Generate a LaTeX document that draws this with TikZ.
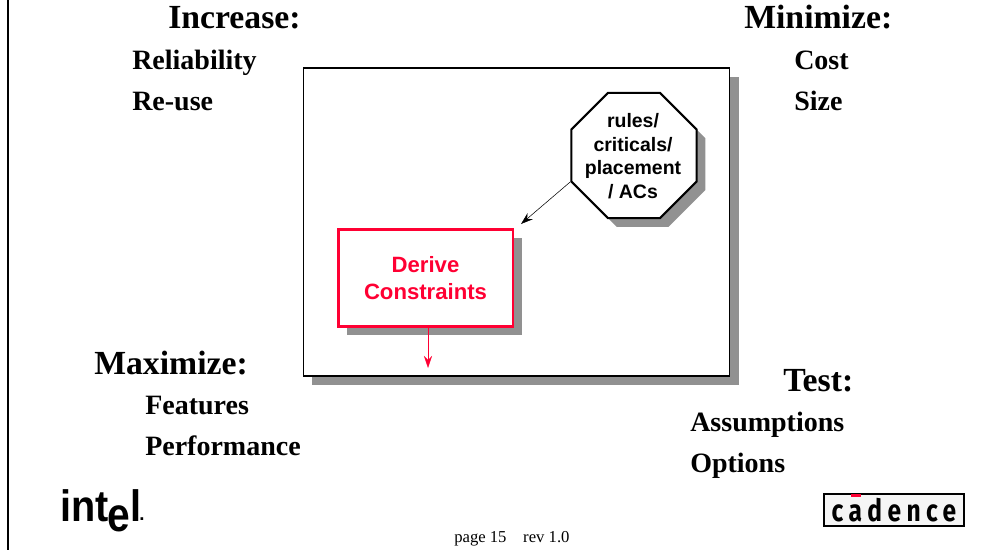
\documentclass[tikz,border=0pt]{standalone}
\usepackage{fontspec}
\usepackage{graphicx}
\usepackage{xcolor}
\usetikzlibrary{shapes.geometric,shadows,arrows.meta}
\setmainfont{Liberation Serif}
\setsansfont{Liberation Sans}
\newfontfamily\cadencefont[LetterSpace=22]{Fira Sans}
\definecolor{derive-red}{HTML}{FF0033}
\definecolor{shadow-gray}{HTML}{919191}
\tikzset{
    x=0.75pt, y=-0.75pt,
    heavy-shadow/.style = {drop shadow={shadow xshift=6.5pt, shadow yshift=-6.5pt, fill=shadow-gray, opacity=1}},
    main-box/.style = {draw=black, fill=white, thick, rectangle, minimum width=320pt, minimum height=231pt, heavy-shadow},
    rules-box/.style = {draw=black, fill=white, line width=1.6pt, regular polygon, regular polygon sides=8, minimum size=101.7pt, inner sep=0pt, heavy-shadow},
    rules-text/.style = {align=center, inner sep=0pt, font=\sffamily\bfseries\fontsize{14.6}{17.6}\selectfont},
    derive-box/.style = {draw=derive-red, fill=white, line width=2pt, rectangle, minimum width=131pt, minimum height=73pt, align=center, text=derive-red, font=\sffamily\bfseries\fontsize{16.6}{20}\selectfont, heavy-shadow},
    heading/.style = {anchor=base west, inner sep=0pt, font=\bfseries\fontsize{25.3}{30}\selectfont},
    item/.style = {anchor=base west, inner sep=0pt, font=\bfseries\fontsize{21}{25}\selectfont},
    logo-text/.style = {anchor=base west, inner sep=0pt, font=\sffamily\bfseries\fontsize{33}{33}\selectfont},
    open-tip/.style = {-{Stealth[length=9pt,width=6pt,inset=3pt]}},
}
\begin{document}
\begin{tikzpicture}
\useasboundingbox (0,0) rectangle (1004,550);
\draw[thick] (8,0) -- (8,550);

\node[main-box] (main) at (516.5,222) {};
\node[rules-box] (rules) at (634,155.5) {};
\node[rules-text] (rules-label) at (633,156) {rules/\\criticals/\\placement\\/ ACs};
\node[derive-box] (derive) at (425.5,278) {Derive\\Constraints};
\coordinate (derive-in) at (521,224);
\coordinate (derive-out) at (428,368);
\draw[open-tip] (rules.corner 4) -- (derive-in);
\draw[derive-red, open-tip] (derive.south -| derive-out) -- (derive-out);

\node[heading] (increase) at (168,28) {Increase:};
\node[item] (reliability) at (132,69) {Reliability};
\node[item] (reuse) at (132,110) {Re-use};
\node[heading] (minimize) at (744,28) {Minimize:};
\node[item] (cost) at (794,69) {Cost};
\node[item] (size) at (794,110) {Size};
\node[heading] (maximize) at (94,374) {Maximize:};
\node[item] (features) at (145,414) {Features};
\node[item] (performance) at (145,455) {Performance};
\node[heading] (test) at (783,391) {Test:};
\node[item] (assumptions) at (690,431) {Assumptions};
\node[item] (options) at (690,472) {Options};

\node[anchor=base west, inner sep=0pt, font=\fontsize{12.5}{14}\selectfont] (page) at (454,542) {page 15\hspace{1em}rev 1.0};

% intel logo
\node[logo-text] (int) at (60,521) {\scalebox{.9}[1]{int}};
\node[logo-text, font=\sffamily\bfseries\fontsize{36}{36}\selectfont] (intel-e) at (107,531) {\scalebox{.85}[1]{e}};
\node[logo-text] (intel-l) at (130,521) {\scalebox{.9}[1]{l}};
\node[logo-text, font=\sffamily\bfseries\fontsize{14}{14}\selectfont] (intel-dot) at (139,520) {.};

% cadence logo
\node[draw=black, fill=white!96!black, line width=1.2pt, minimum width=105pt, minimum height=24pt, inner sep=0pt, font=\cadencefont\bfseries\fontsize{23}{23}\selectfont] (cadence) at (894,510) {\scalebox{.8}[1]{cadence}};
\fill[derive-red] (851,494) rectangle (861,497);
\end{tikzpicture}
\end{document}
